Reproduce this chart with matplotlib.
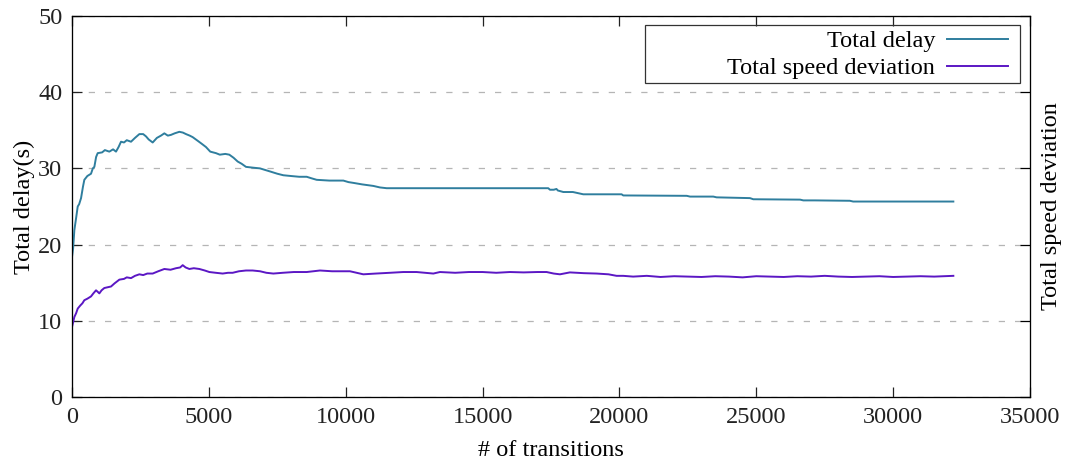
import matplotlib
matplotlib.use("Agg")
import matplotlib.pyplot as plt
from matplotlib.patches import Rectangle

plt.rcParams['font.family'] = ['Liberation Serif', 'DejaVu Serif']

# Total delay
delay_x = [0, 40, 85, 150, 208, 260, 330, 400, 450, 560, 694, 760, 816, 880, 938,
           1100, 1200, 1363, 1500, 1607, 1700, 1790, 1900, 2000, 2155, 2300, 2460,
           2600, 2703, 2800, 2947, 3100, 3250, 3373, 3500, 3617, 3750, 3920, 4050,
           4165, 4300, 4409, 4600, 4750, 4895, 5050, 5260, 5400, 5600, 5747, 5900,
           6053, 6200, 6356, 6600, 6868, 7050, 7233, 7500, 7720, 8000, 8300, 8573,
           8750, 8939, 9400, 9913, 10100, 10277, 10600, 11008, 11250, 11496, 13443,
           15500, 17400, 17462, 17600, 17700, 17750, 17950, 18300, 18680, 20080,
           20140, 22460, 22580, 23430, 23550, 24770, 24890, 26600, 26720, 27140,
           28420, 28540, 32200]
delay_y = [18.4, 19.5, 21.9, 23.5, 25.0, 25.3, 26.1, 27.6, 28.5, 29.0, 29.3, 30.0, 30.2,
           31.5, 32.0, 32.1, 32.4, 32.2, 32.5, 32.2, 32.8, 33.5, 33.4, 33.7, 33.5, 34.0,
           34.5, 34.5, 34.2, 33.8, 33.4, 34.0, 34.3, 34.6, 34.3, 34.4, 34.6, 34.8, 34.7,
           34.5, 34.3, 34.1, 33.6, 33.2, 32.8, 32.2, 32.0, 31.8, 31.9, 31.8, 31.4, 30.9,
           30.6, 30.2, 30.1, 30.0, 29.8, 29.6, 29.3, 29.1, 29.0, 28.9, 28.9, 28.7, 28.5,
           28.4, 28.4, 28.2, 28.1, 27.9, 27.7, 27.5, 27.4, 27.4, 27.4, 27.4, 27.2, 27.2,
           27.3, 27.1, 26.9, 26.9, 26.6, 26.6, 26.45, 26.4, 26.3, 26.3, 26.2, 26.1,
           25.95, 25.9, 25.8, 25.8, 25.75, 25.65, 25.65]

# Total speed deviation
speed_x = [0, 40, 85, 150, 208, 300, 380, 450, 560, 694, 780, 877, 940, 998, 1080,
           1180, 1300, 1425, 1550, 1729, 1900, 2000, 2155, 2300, 2460, 2600, 2750,
           2947, 3150, 3373, 3600, 3800, 3950, 4044, 4150, 4287, 4450, 4652, 4850,
           5017, 5250, 5504, 5700, 5869, 6100, 6356, 6600, 6870, 7100, 7355, 7700,
           8100, 8573, 9060, 9500, 10155, 10642, 11100, 11617, 12100, 12591, 13200,
           13443, 14000, 14500, 15000, 15500, 16000, 16500, 17000, 17340, 17600,
           17828, 18190, 18700, 19166, 19600, 19896, 20140, 20500, 21000, 21500,
           22000, 22500, 23000, 23500, 24000, 24500, 25000, 25500, 26000, 26500,
           27000, 27500, 28000, 28500, 29000, 29500, 30000, 30500, 31000, 31500, 32200]
speed_y = [9.2, 9.8, 10.5, 11.0, 11.6, 12.0, 12.3, 12.7, 12.9, 13.2, 13.6, 14.0, 13.8,
           13.6, 14.0, 14.3, 14.4, 14.5, 14.9, 15.4, 15.5, 15.7, 15.6, 15.9, 16.1, 16.0,
           16.2, 16.2, 16.5, 16.8, 16.7, 16.9, 17.0, 17.3, 17.0, 16.8, 16.9, 16.8, 16.6,
           16.4, 16.3, 16.2, 16.3, 16.3, 16.5, 16.6, 16.6, 16.5, 16.3, 16.2, 16.3, 16.4,
           16.4, 16.6, 16.5, 16.5, 16.1, 16.2, 16.3, 16.4, 16.4, 16.2, 16.4, 16.3, 16.4,
           16.4, 16.3, 16.4, 16.35, 16.4, 16.4, 16.2, 16.1, 16.35, 16.25, 16.2, 16.1,
           15.9, 15.9, 15.8, 15.9, 15.75, 15.85, 15.8, 15.75, 15.85, 15.8, 15.7, 15.85,
           15.8, 15.75, 15.85, 15.8, 15.9, 15.8, 15.75, 15.8, 15.85, 15.75, 15.8,
           15.85, 15.8, 15.9]

fs = 17.5
fig = plt.figure(figsize=(10.67, 4.62), dpi=100)
ax = fig.add_axes([0.0675, 0.1407, 0.8978, 0.8247])

ax.plot(delay_x, delay_y, color="#2f7e9e", lw=1.4, label="Total delay", zorder=3)
ax.plot(speed_x, speed_y, color="#5b17c4", lw=1.4, label="Total speed deviation", zorder=3)

ax.set_xlim(0, 35000)
ax.set_ylim(0, 50)
ax.set_xticks(range(0, 35001, 5000))
ax.set_yticks(range(0, 51, 10))
ax.yaxis.grid(True, color="#b5b5b5", linestyle=(0, (5, 8)), lw=0.9)
ax.set_axisbelow(True)
ax.tick_params(direction="in", length=7, width=0.9, labelsize=fs, top=True,
               pad=7, colors="#222222")
for s in ax.spines.values():
    s.set_color("#333333")
    s.set_linewidth(0.9)

ax.set_xlabel("# of transitions", fontsize=fs, labelpad=9)
ax.set_ylabel("Total delay(s)", fontsize=fs, labelpad=2)

ax2 = ax.twinx()
ax2.set_ylim(0, 50)
ax2.set_yticks(range(0, 51, 10))
ax2.tick_params(direction="in", length=7, width=0.9, labelright=False)
ax2.set_ylabel("Total speed deviation", fontsize=fs, labelpad=8)

ax.add_patch(Rectangle((0.598, 0.824), 0.3916, 0.1524, transform=ax.transAxes,
                       fill=False, edgecolor="#333333", lw=0.9, zorder=4))
ax.legend(loc="upper right", bbox_to_anchor=(0.977, 0.962), frameon=False,
          markerfirst=False, fontsize=fs, handlelength=2.5, handletextpad=0.5,
          labelspacing=0.2, borderpad=0, borderaxespad=0)

fig.savefig("out.png", dpi=100)
